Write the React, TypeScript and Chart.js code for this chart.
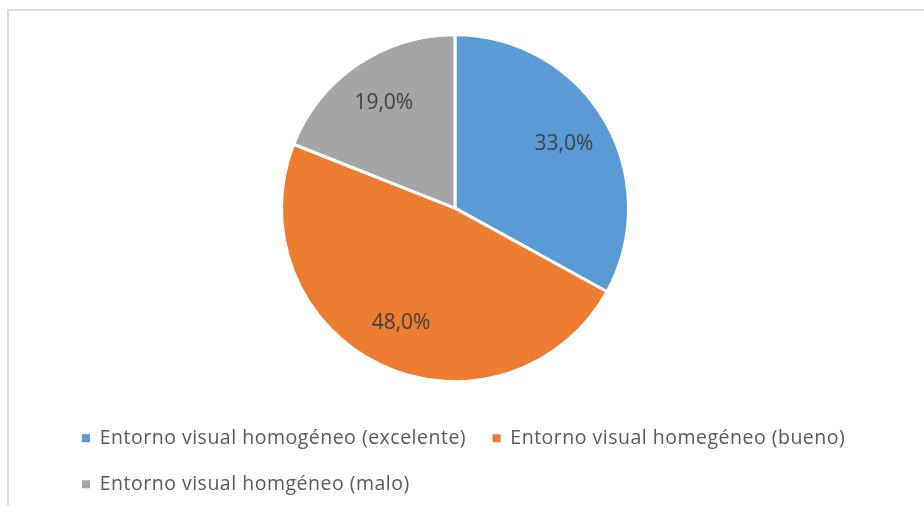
import React, { useEffect, useRef } from "react";
import { Chart, registerables } from "chart.js";

Chart.register(...registerables);

const categories = [
  "Entorno visual homogéneo (excelente)",
  "Entorno visual homegéneo (bueno)",
  "Entorno visual homgéneo (malo)",
];
const values = [33.0, 48.0, 19.0];
const colors = ["#5B9BD5", "#ED7D31", "#A5A5A5"];

const PIE_CENTER_X = 455;
const LEGEND_SPACING = "0.5px";

// keep pie centred where the reference has it, while legend spans the full width
const pieCenter = {
  id: "pieCenter",
  beforeLayout(chart: any) {
    chart.ctx.letterSpacing = LEGEND_SPACING;
  },
  afterLayout(chart: any) {
    const a = chart.chartArea;
    a.right = 2 * PIE_CENTER_X - a.left;
    a.width = a.right - a.left;
  },
  beforeDraw(chart: any) {
    chart.ctx.letterSpacing = LEGEND_SPACING;
  },
};

const pieLabels = {
  id: "pieLabels",
  afterDatasetsDraw(chart: any) {
    const ctx = chart.ctx;
    const meta = chart.getDatasetMeta(0);
    const data = chart.data.datasets[0].data as number[];
    ctx.save();
    ctx.letterSpacing = "0px";
    ctx.font = "21px 'Open Sans'";
    ctx.fillStyle = "#404040";
    ctx.textAlign = "center";
    ctx.textBaseline = "middle";
    meta.data.forEach((arc: any, i: number) => {
      const { x, y, startAngle, endAngle, outerRadius } = arc.getProps(
        ["x", "y", "startAngle", "endAngle", "outerRadius"],
        true
      );
      const mid = (startAngle + endAngle) / 2;
      const r = outerRadius * 0.73;
      const txt = data[i].toFixed(1).replace(".", ",") + "%";
      ctx.fillText(txt, x + Math.cos(mid) * r, y + Math.sin(mid) * r);
    });
    ctx.restore();
  },
};

export default function App() {
  const ref = useRef<HTMLCanvasElement | null>(null);
  useEffect(() => {
    if (!ref.current) return;
    const chart = new Chart(ref.current, {
      type: "pie",
      data: {
        labels: categories,
        datasets: [
          {
            data: values,
            backgroundColor: colors,
            borderColor: "#ffffff",
            borderWidth: 3,
            radius: 173.5,
          } as any,
        ],
      },
      options: {
        animation: false,
        responsive: false,
        maintainAspectRatio: false,
        layout: { padding: { left: 55.5, right: 0, top: 14.25, bottom: 2 } },
        plugins: {
          tooltip: { enabled: false },
          legend: {
            position: "bottom",
            align: "start",
            labels: {
              boxWidth: 8,
              boxHeight: 8,
              padding: 26.5,
              color: "#595959",
              font: { family: "'Open Sans'", size: 19.5 },
              generateLabels(chart: any) {
                const items = (Chart as any).overrides.pie.plugins.legend.labels.generateLabels(chart);
                return items.map((it: any) => ({ ...it, lineWidth: 0, strokeStyle: "rgba(0,0,0,0)" }));
              },
            },
          },
        },
      },
      plugins: [pieCenter, pieLabels],
    });
    return () => chart.destroy();
  }, []);
  return (
    <div style={{ position: "absolute", left: 0, top: 0, width: 924, height: 506, overflow: "hidden", background: "#fff" }}>
      <div
        style={{
          position: "absolute",
          left: 7,
          top: 9,
          width: 1000,
          height: 600,
          borderLeft: "2px solid #d9d9d9",
          borderTop: "2px solid #d9d9d9",
        }}
      />
      <canvas ref={ref} width={924} height={506} style={{ position: "absolute", left: 0, top: 0, width: 924, height: 506 }} />
    </div>
  );
}
